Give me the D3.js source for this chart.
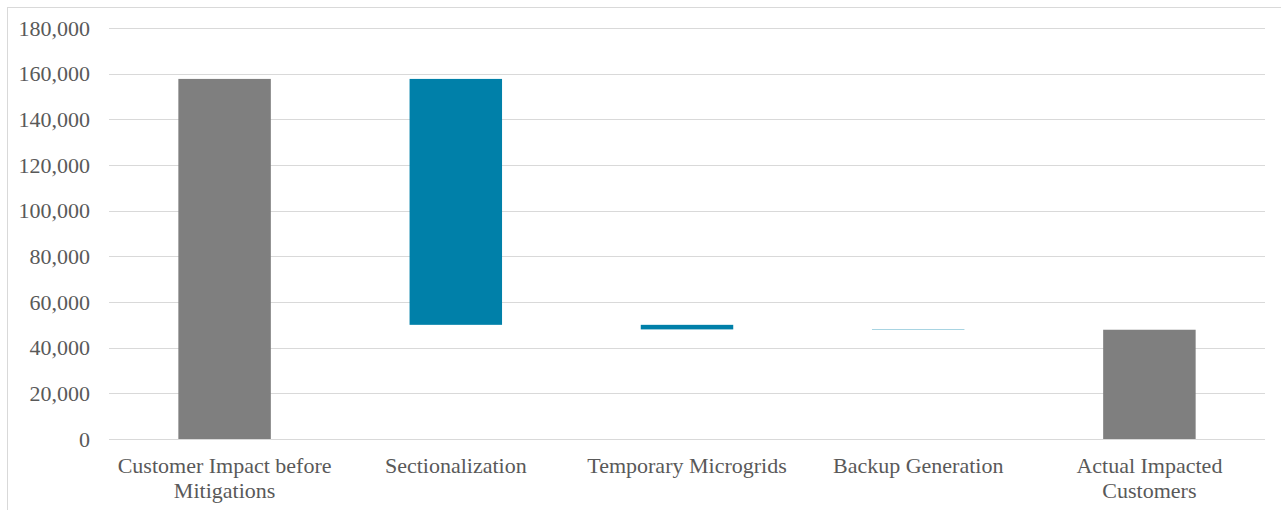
<!DOCTYPE html>
<html>
<head>
<meta charset="utf-8">
<script src="https://cdn.jsdelivr.net/npm/d3@7"></script>
<style>
  body { margin: 0; background: #fff; }
  text { font-family: "Liberation Serif", "Times New Roman", serif; fill: #595959; }
</style>
</head>
<body>
<div id="chart"></div>
<script>
// waterfall: start total, reductions, final total
var categories = ["Customer Impact before Mitigations", "Sectionalization", "Temporary Microgrids", "Backup Generation", "Actual Impacted Customers"];
var values = [157700, -107700, -2000, -150, 47850];
var kinds = ["total", "step", "step", "step", "total"];
var yTicks = [0, 20000, 40000, 60000, 80000, 100000, 120000, 140000, 160000, 180000];

var width = 1281, height = 510;
var margin = {top: 28, right: 16, bottom: 71, left: 109};

var svg = d3.select("#chart").append("svg")
    .attr("width", width)
    .attr("height", height);

// outer frame
svg.append("rect")
    .attr("x", 7.5).attr("y", 7.5)
    .attr("width", width + 10).attr("height", height + 10)
    .attr("fill", "none")
    .attr("stroke", "#d9d9d9");

var xScale = d3.scaleBand()
    .domain(categories)
    .range([margin.left, width - margin.right])
    .padding(0);

var yScale = d3.scaleLinear()
    .domain([0, 180000])
    .range([height - margin.bottom, margin.top]);

// gridlines
svg.append("g")
    .selectAll("line")
    .data(yTicks)
    .join("line")
    .attr("x1", margin.left)
    .attr("x2", width - margin.right)
    .attr("y1", d => Math.round(yScale(d)) + 0.5)
    .attr("y2", d => Math.round(yScale(d)) + 0.5)
    .attr("stroke", "#d9d9d9")
    .attr("stroke-width", 1);

// y axis labels
var yAxis = svg.append("g")
    .attr("transform", "translate(" + (margin.left - 19) + ",0)")
    .call(d3.axisLeft(yScale).tickValues(yTicks).tickSize(0).tickPadding(0).tickFormat(d3.format(",")));
yAxis.select(".domain").remove();
yAxis.selectAll("text")
    .style("font-family", "'Liberation Serif', 'Times New Roman', serif")
    .style("font-size", "22px")
    .attr("fill", "#595959");

// running totals for waterfall
var bars = [];
var running = 0;
values.forEach(function(v, i) {
    if (kinds[i] == "total") {
        bars.push({cat: categories[i], y0: 0, y1: v, kind: "total"});
        running = v;
    } else {
        bars.push({cat: categories[i], y0: running + v, y1: running, kind: "step"});
        running += v;
    }
});

var bw = xScale.bandwidth() * 0.4;
svg.append("g")
    .selectAll("rect")
    .data(bars)
    .join("rect")
    .attr("x", d => xScale(d.cat) + (xScale.bandwidth() - bw) / 2)
    .attr("width", bw)
    .attr("y", d => yScale(d.y1))
    .attr("height", d => yScale(d.y0) - yScale(d.y1))
    .attr("fill", d => d.kind == "total" ? "#7f7f7f" : "#0080a9");

// x labels (wrapped like Excel)
var wraps = {
    "Customer Impact before Mitigations": ["Customer Impact before", "Mitigations"],
    "Actual Impacted Customers": ["Actual Impacted", "Customers"]
};
var xl = svg.append("g");
categories.forEach(function(c) {
    var lines = wraps[c] || [c];
    var t = xl.append("text")
        .attr("text-anchor", "middle")
        .style("font-size", "22px")
        .attr("x", xScale(c) + xScale.bandwidth() / 2)
        .attr("y", 473);
    lines.forEach(function(l, i) {
        t.append("tspan")
            .attr("x", xScale(c) + xScale.bandwidth() / 2)
            .attr("dy", i == 0 ? 0 : 25)
            .text(l);
    });
});
</script>
</body>
</html>
